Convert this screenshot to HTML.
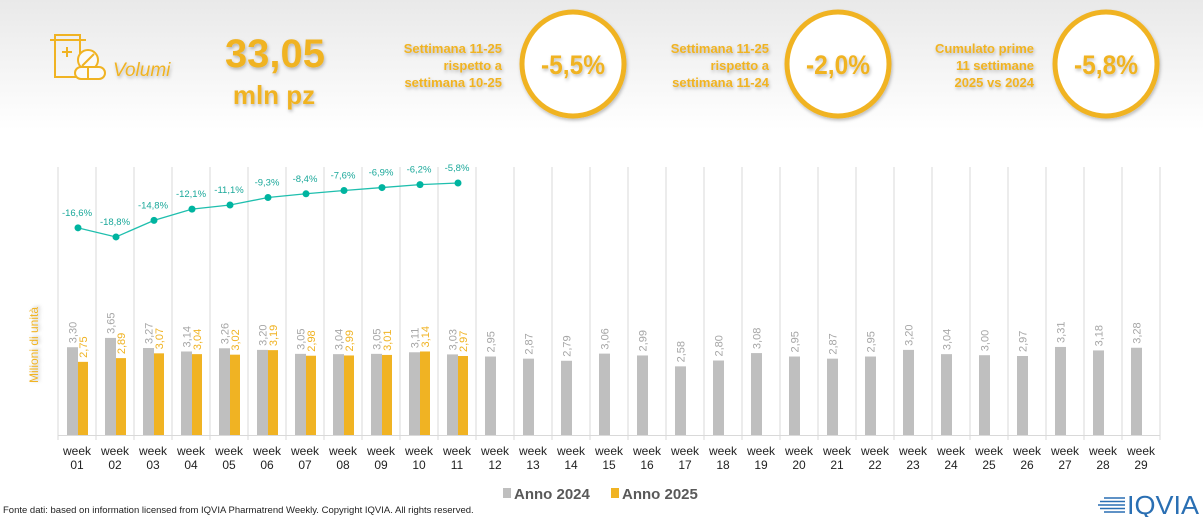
<!DOCTYPE html>
<html><head><meta charset="utf-8"><style>
html,body{margin:0;padding:0;width:1203px;height:517px;overflow:hidden;background:#fff}
svg text{font-family:"Liberation Sans",Arial,sans-serif}
</style></head><body>
<svg width="1203" height="517" viewBox="0 0 1203 517" xmlns="http://www.w3.org/2000/svg">
<defs>
<linearGradient id="bg" x1="0" y1="0" x2="0" y2="1"><stop offset="0" stop-color="#e9e9e9"/><stop offset="1" stop-color="#ffffff"/></linearGradient>
<filter id="sh" x="-20%" y="-20%" width="140%" height="140%"><feDropShadow dx="1" dy="2" stdDeviation="1.5" flood-color="#000" flood-opacity="0.25"/></filter>
</defs>
<rect x="0" y="0" width="1203" height="130" fill="url(#bg)"/>
<!-- icon -->
<g stroke="#f0b323" stroke-width="2" fill="none">
<rect x="55" y="35" width="25" height="42"/>
<line x1="50" y1="40" x2="86" y2="40"/>
<line x1="62" y1="52" x2="72" y2="52"/><line x1="67" y1="47" x2="67" y2="57"/>
<circle cx="88" cy="60" r="10" fill="#fafafa"/><line x1="82" y1="66" x2="94" y2="54"/>
<rect x="75" y="67" width="30" height="12" rx="6" fill="#fafafa"/><line x1="88" y1="67" x2="88" y2="79"/>
</g>
<g filter="url(#sh)" fill="#f0b323">
<text x="113" y="76" font-size="19" font-style="italic">Volumi</text>
<text x="275" y="67" font-size="40" font-weight="bold" text-anchor="middle">33,05</text>
<text x="274" y="104" font-size="26" font-weight="bold" text-anchor="middle">mln pz</text>
<g font-size="13" font-weight="bold" text-anchor="end">
<text x="502" y="53">Settimana 11-25</text><text x="502" y="70">rispetto a</text><text x="502" y="87">settimana 10-25</text>
<text x="769" y="53">Settimana 11-25</text><text x="769" y="70">rispetto a</text><text x="769" y="87">settimana 11-24</text>
<text x="1034" y="53">Cumulato prime</text><text x="1034" y="70">11 settimane</text><text x="1034" y="87">2025 vs 2024</text>
</g>
</g>
<g filter="url(#sh)" fill="#fff" stroke="#f0b323" stroke-width="5">
<ellipse cx="573" cy="64" rx="51" ry="52"/><ellipse cx="838" cy="64" rx="51" ry="52"/><ellipse cx="1106" cy="64" rx="51" ry="52"/>
</g>
<g fill="#f0b323" font-size="27" font-weight="bold" text-anchor="middle" filter="url(#sh)">
<text x="573" y="74" textLength="64" lengthAdjust="spacingAndGlyphs">-5,5%</text>
<text x="838" y="74" textLength="64" lengthAdjust="spacingAndGlyphs">-2,0%</text>
<text x="1106" y="74" textLength="64" lengthAdjust="spacingAndGlyphs">-5,8%</text>
</g>
<g id="chart"></g>
<text transform="translate(38,345) rotate(-90)" font-size="12" fill="#f0b323" text-anchor="middle" filter="url(#sh)">Milioni di unità</text>
<rect x="503" y="488" width="8" height="10" fill="#bfbfbf"/>
<text x="514" y="499" font-size="15" font-weight="bold" fill="#595959">Anno 2024</text>
<rect x="611" y="488" width="8" height="10" fill="#f0b323"/>
<text x="622" y="499" font-size="15" font-weight="bold" fill="#595959">Anno 2025</text>
<text x="3" y="513" font-size="9.5" fill="#222">Fonte dati: based on information licensed from IQVIA Pharmatrend Weekly. Copyright IQVIA. All rights reserved.</text>
<g stroke="#2a6fb3" stroke-width="1.6">
<line x1="1104" y1="498" x2="1125" y2="498"/><line x1="1100" y1="501.5" x2="1125" y2="501.5"/><line x1="1098" y1="505" x2="1125" y2="505"/><line x1="1100" y1="508.5" x2="1125" y2="508.5"/><line x1="1104" y1="512" x2="1125" y2="512"/>
</g>
<text x="1127" y="514" font-size="26" fill="#2a6fb3" textLength="72" lengthAdjust="spacingAndGlyphs">IQVIA</text>
</svg>
<script>
var g=document.getElementById('chart'),ns='http://www.w3.org/2000/svg';
function el(t,a,txt){var e=document.createElementNS(ns,t);for(var k in a)e.setAttribute(k,a[k]);if(txt!==undefined)e.textContent=txt;g.appendChild(e);return e;}
var a=[3.30,3.65,3.27,3.14,3.26,3.20,3.05,3.04,3.05,3.11,3.03,2.95,2.87,2.79,3.06,2.99,2.58,2.80,3.08,2.95,2.87,2.95,3.20,3.04,3.00,2.97,3.31,3.18,3.28];
var b=[2.75,2.89,3.07,3.04,3.02,3.19,2.98,2.99,3.01,3.14,2.97];
var p=[-16.6,-18.8,-14.8,-12.1,-11.1,-9.3,-8.4,-7.6,-6.9,-6.2,-5.8];
var base=435,k=26.6,f=function(v){return v.toFixed(2).replace('.',',');};
for(var i=0;i<=29;i++){var x=58+38*i;el('line',{x1:x,y1:167,x2:x,y2:440,stroke:'#d9d9d9','stroke-width':1});}
el('line',{x1:58,y1:435.5,x2:1160,y2:435.5,stroke:'#d9d9d9','stroke-width':1});
for(var i=0;i<29;i++){var c=77+38*i,h=a[i]*k;
el('rect',{x:c-10,y:base-h,width:11,height:h,fill:'#bfbfbf'});
el('text',{transform:'translate('+(c-0.5)+','+(base-h-4)+') rotate(-90)','font-size':11,fill:'#a6a6a6'},f(a[i]));
if(i<11){var h2=b[i]*k;el('rect',{x:c+1,y:base-h2,width:10,height:h2,fill:'#f0b323'});
el('text',{transform:'translate('+(c+10)+','+(base-h2-4)+') rotate(-90)','font-size':11,fill:'#f0b323'},f(b[i]));}
var w=el('text',{x:c,y:455,'font-size':12,fill:'#222','text-anchor':'middle'},'week');
el('text',{x:c,y:469,'font-size':12,fill:'#222','text-anchor':'middle'},(i<9?'0':'')+(i+1));}
var pts=[];for(var i=0;i<11;i++){var c=78+38*i,y=183+(-5.8-p[i])*4.15;pts.push(c+','+y);}
el('polyline',{points:pts.join(' '),fill:'none',stroke:'#1fbfae','stroke-width':1.3});
for(var i=0;i<11;i++){var c=78+38*i,y=183+(-5.8-p[i])*4.15;el('circle',{cx:c,cy:y,r:3.5,fill:'#00b4a0'});
el('text',{x:c-1,y:y-12,'font-size':9.5,fill:'#1aa89a','text-anchor':'middle'},p[i].toFixed(1).replace('.',',')+'%');}
</script>
</body></html>
